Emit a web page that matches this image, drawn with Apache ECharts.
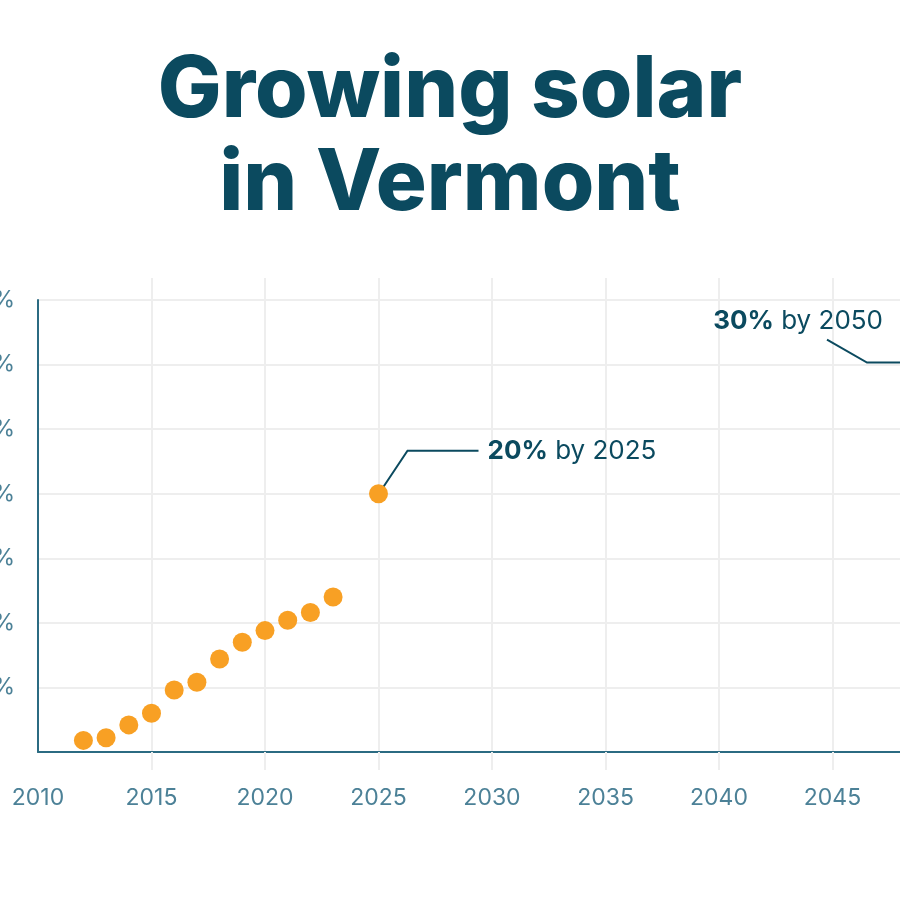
<!DOCTYPE html>
<html>
<head>
<meta charset="utf-8">
<title>Growing solar in Vermont</title>
<script src="https://cdn.jsdelivr.net/npm/echarts@6/dist/echarts.min.js"></script>
<style>
  html, body { margin: 0; padding: 0; background: #fff; }
  #chart { width: 900px; height: 900px; }
</style>
</head>
<body>
<div id="chart"></div>
<script>
// solar share of Vermont electricity, by year
const years = [2012, 2013, 2014, 2015, 2016, 2017, 2018, 2019, 2020, 2021, 2022, 2023];
const shares = [0.9, 1.1, 2.1, 3.0, 4.8, 5.4, 7.2, 8.5, 9.4, 10.2, 10.8, 12.0];

// policy goals
const goalYears = [2025, 2050];
const goalShares = [20, 30];
const goalLabels = ["by 2025", "by 2050"];

const xTicks = [2015, 2020, 2025, 2030, 2035, 2040, 2045, 2050];

const teal = "#0b4a5f";
const axisTeal = "#4c8197";
const orange = "#f8a024";
const gridGray = "#eeeeee";

const chart = echarts.init(document.getElementById("chart"));

const history = years.map((y, i) => [y, shares[i]]);
const goals = goalYears.map((y, i) => [y, goalShares[i], goalLabels[i]]);

// leader line + text for each goal, placed relative to the goal point
function renderGoal(params, api) {
  const p = api.coord([api.value(0), api.value(1)]);
  const pct = api.value(1) + "%";
  const txt = "{b|" + pct + "} " + goalLabels[params.dataIndex];
  let pts, tx, align;
  if (params.dataIndex === 0) {
    pts = [[p[0] + 3, p[1] - 4], [p[0] + 29, p[1] - 43], [p[0] + 100, p[1] - 43]];
    tx = p[0] + 109;
    align = "left";
  } else {
    pts = [[p[0], p[1] - 2], [p[0] - 79, p[1] - 2], [p[0] - 119, p[1] - 25]];
    tx = p[0] - 63;
    align = "right";
  }
  return {
    type: "group",
    children: [
      {
        type: "polyline",
        shape: { points: pts },
        style: { stroke: teal, lineWidth: 2, fill: null }
      },
      {
        type: "text",
        style: {
          text: txt,
          x: tx,
          y: p[1] - 43,
          align: align,
          verticalAlign: "middle",
          fill: teal,
          fontSize: 26,
          fontFamily: "Inter",
          rich: {
            b: { fontSize: 26, fontWeight: "bold", fontFamily: "Inter", fill: teal }
          }
        }
      }
    ]
  };
}

const option = {
  backgroundColor: "#ffffff",
  animation: false,
  title: {
    text: "Growing solar\nin Vermont",
    left: "center",
    top: 40,
    textStyle: {
      color: teal,
      fontFamily: "Inter",
      fontWeight: 800,
      fontSize: 85,
      lineHeight: 93
    }
  },
  grid: {
    left: 38,
    top: 300,
    width: 908,
    height: 452,
    containLabel: false,
    outerBoundsMode: "none"
  },
  xAxis: [
    {
      type: "value",
      min: 2010,
      max: 2050,
      interval: 5,
      axisLine: { show: true, onZero: false, lineStyle: { color: "#2b6b82", width: 2 } },
      axisTick: {
        show: true,
        customValues: xTicks,
        length: 18,
        lineStyle: { color: gridGray, width: 2 }
      },
      axisLabel: {
        color: axisTeal,
        fontSize: 23,
        fontFamily: "Inter",
        margin: 35,
        formatter: (v) => String(v)
      },
      splitLine: { show: true, lineStyle: { color: gridGray, width: 2 } }
    },
    {
      type: "value",
      position: "top",
      min: 2010,
      max: 2050,
      interval: 5,
      axisLine: { show: true, onZero: false, lineStyle: { color: "#ffffff", opacity: 0 } },
      axisTick: {
        show: true,
        inside: false,
        customValues: xTicks,
        length: 22,
        lineStyle: { color: gridGray, width: 2 }
      },
      axisLabel: { show: false },
      splitLine: { show: false }
    }
  ],
  yAxis: {
    type: "value",
    min: 0,
    max: 35,
    interval: 5,
    axisLine: { show: true, lineStyle: { color: "#2b6b82", width: 2 } },
    axisTick: { show: false },
    axisLabel: {
      color: axisTeal,
      fontSize: 23,
      fontFamily: "Inter",
      margin: 23,
      formatter: (v) => (v === 0 ? "" : v + "%")
    },
    splitLine: { show: true, lineStyle: { color: gridGray, width: 2 } }
  },
  series: [
    {
      type: "scatter",
      data: history,
      symbolSize: 19,
      itemStyle: { color: orange, opacity: 1 },
      z: 3
    },
    {
      type: "custom",
      data: goals,
      renderItem: renderGoal,
      z: 2
    },
    {
      type: "scatter",
      data: goals.map((g) => [g[0], g[1]]),
      symbolSize: 19,
      itemStyle: { color: orange, opacity: 1 },
      z: 4
    }
  ]
};

chart.setOption(option);
</script>
</body>
</html>
